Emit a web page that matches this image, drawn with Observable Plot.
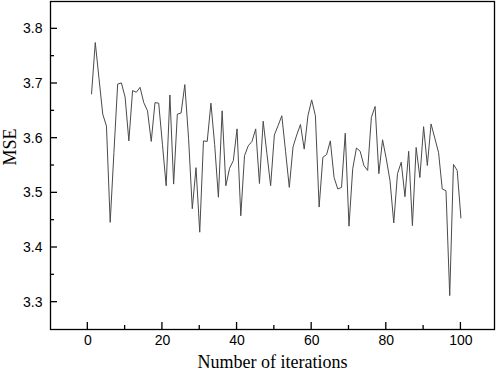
<!DOCTYPE html>
<html><head>
<meta charset="utf-8">
<script src="https://cdn.jsdelivr.net/npm/d3@7"></script>
<script src="https://cdn.jsdelivr.net/npm/@observablehq/plot@0.6"></script>
<style>body{margin:0;background:#fff}</style>
</head><body><div id="chart"></div>
<script>
const iterations = d3.range(1, 101);
const mse = [
  3.681, 3.775, 3.709, 3.644, 3.622, 3.446, 3.574, 3.699, 3.701, 3.675,
  3.595, 3.687, 3.684, 3.693, 3.665, 3.650, 3.594, 3.665, 3.664, 3.589,
  3.513, 3.679, 3.516, 3.644, 3.646, 3.698, 3.600, 3.471, 3.546, 3.428,
  3.595, 3.594, 3.664, 3.588, 3.492, 3.650, 3.513, 3.545, 3.559, 3.617,
  3.458, 3.568, 3.586, 3.594, 3.617, 3.517, 3.631, 3.572, 3.513, 3.606,
  3.623, 3.641, 3.576, 3.510, 3.584, 3.606, 3.625, 3.580, 3.641, 3.670,
  3.641, 3.474, 3.565, 3.570, 3.595, 3.528, 3.507, 3.510, 3.609, 3.439,
  3.544, 3.582, 3.576, 3.550, 3.541, 3.638, 3.658, 3.535, 3.597, 3.562,
  3.522, 3.445, 3.535, 3.556, 3.493, 3.576, 3.440, 3.583, 3.528, 3.621,
  3.550, 3.626, 3.600, 3.574, 3.507, 3.504, 3.312, 3.552, 3.541, 3.454
];
const xTicks = [0, 20, 40, 60, 80, 100];
const xMinor = [10, 30, 50, 70, 90];
const yTicks = [3.3, 3.4, 3.5, 3.6, 3.7, 3.8];
const yMinor = [3.35, 3.45, 3.55, 3.65, 3.75];
const xLabel = "Number of iterations";
const yLabel = "MSE";

const data = iterations.map((x, i) => ({x, y: mse[i]}));

const W = 498, H = 375, ML = 50, MR = 4, MT = 1, MB = 46;
const fh = H - MT - MB;

// inward tick marks, positioned through the chart's own x and y scales
function addInwardTicks(svg) {
  const sx = svg.scale("x"), sy = svg.scale("y");
  const g = d3.select(svg).append("g").attr("stroke", "#000").attr("stroke-width", 1.3);
  const yb = MT + fh, xl = ML;
  for (const t of xTicks) g.append("line").attr("x1", sx.apply(t)).attr("x2", sx.apply(t)).attr("y1", yb).attr("y2", yb - 7);
  for (const t of xMinor) g.append("line").attr("x1", sx.apply(t)).attr("x2", sx.apply(t)).attr("y1", yb).attr("y2", yb - 4);
  for (const t of yTicks) g.append("line").attr("y1", sy.apply(t)).attr("y2", sy.apply(t)).attr("x1", xl).attr("x2", xl + 7);
  for (const t of yMinor) g.append("line").attr("y1", sy.apply(t)).attr("y2", sy.apply(t)).attr("x1", xl).attr("x2", xl + 4);
}

const chart = Plot.plot({
  width: W,
  height: H,
  marginLeft: ML,
  marginRight: MR,
  marginTop: MT,
  marginBottom: MB,
  x: {domain: [-10, 109]},
  y: {domain: [3.25, 3.85]},
  style: {fontFamily: "'Liberation Sans', Arial, sans-serif", fontSize: "14px", color: "#000", background: "#fff"},
  marks: [
    Plot.line(data, {x: "x", y: "y", stroke: "#4a4a4a", strokeWidth: 1}),
    Plot.frame({stroke: "#000", strokeWidth: 1.3}),
    Plot.axisX({ticks: xTicks, tickSize: 0, tickPadding: 6, tickFormat: d => String(d), label: null, fontSize: 14}),
    Plot.axisY({ticks: yTicks, tickSize: 0, tickPadding: 8, tickFormat: d3.format(".1f"), label: null, fontSize: 14}),
    Plot.text([xLabel], {frameAnchor: "bottom", dy: 38, text: d => d, fontFamily: "'Liberation Serif', 'Times New Roman', serif", fontSize: 18, fill: "#000"}),
    Plot.text([yLabel], {frameAnchor: "left", dx: -40, rotate: -90, text: d => d, fontFamily: "'Liberation Serif', 'Times New Roman', serif", fontSize: 18, fill: "#000"})
  ]
});
addInwardTicks(chart);
document.getElementById("chart").appendChild(chart);
</script>
</body></html>
